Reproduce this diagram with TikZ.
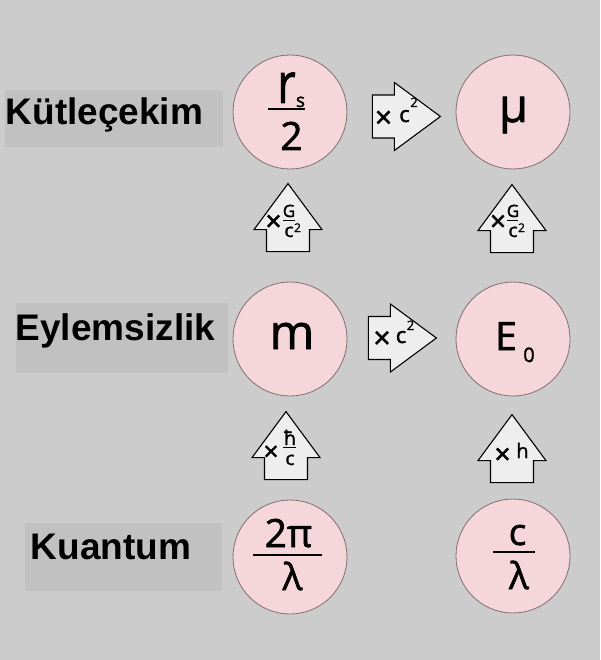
\documentclass[tikz,border=0pt]{standalone}
\usepackage{fontspec}
\usepackage{graphicx}
\setmainfont{Liberation Sans}
\newfontfamily\cf[FakeBold=1.5]{Open Sans}
\usetikzlibrary{calc}
\definecolor{bg}{RGB}{204,204,204}
\definecolor{boxg}{RGB}{193,193,193}
\definecolor{pinkc}{RGB}{245,214,218}
\definecolor{circd}{RGB}{130,110,110}
\definecolor{arrf}{RGB}{238,238,238}
\newcommand\fs[2]{\cf\fontsize{#1}{#1}\selectfont #2}
\tikzset{
  x=1pt, y=-1pt,
  bubble/.style={circle, fill=pinkc, draw=circd, line width=0.8pt, minimum size=114pt, inner sep=0pt},
  glyph/.style={inner sep=0pt, outer sep=0pt, anchor=base},
  rowlabel/.style={inner sep=0pt, anchor=base west, font=\fontsize{37}{37}\selectfont\bfseries},
  fracline/.style={line width=1.6pt, black},
  smallline/.style={line width=0.9pt, black},
  barrow/.pic={\draw[fill=arrf, draw=black, line width=1.1pt, line join=miter]
     (0,-21.5) -- (22,-21.5) -- (22,-34) -- (68,0) -- (22,34) -- (22,21.5) -- (0,21.5) -- cycle;}
}
\begin{document}
\begin{tikzpicture}
\fill[bg] (0,0) rectangle (600,660);
\useasboundingbox (0,0) rectangle (600,660);

% row label boxes
\fill[boxg] (5,90) rectangle (223,147);
\fill[boxg] (16,303) rectangle (228,373);
\fill[boxg] (25,523) rectangle (222,591);
\node[rowlabel] (lab1) at (5.5,125) {Kütleçekim};
\node[rowlabel] (lab2) at (15.5,340) {Eylemsizlik};
\node[rowlabel] (lab3) at (30.5,559) {Kuantum};

% circles
\node[bubble] (rs) at (290,112) {};
\node[bubble] (mu) at (513,112) {};
\node[bubble] (m)  at (290,339) {};
\node[bubble] (E)  at (513,339) {};
\node[bubble] (q1) at (290,557) {};
\node[bubble] (q2) at (513,556) {};

% circle contents
\node[glyph] (rsr) at (286.5,103) {\scalebox{0.8}[1]{\fs{56}{r}}};
\node[glyph] (rss) at (300.5,107) {\fs{19}{s}};
\draw[fracline] (268,109) -- (305,109);
\node[glyph] (rs2) at (291.5,150) {\fs{39}{2}};
\node[glyph] (mut) at (513.5,122) {\fs{47}{μ}};
\node[glyph] (mt) at (292,349) {\fs{48}{m}};
\node[glyph] (Et) at (506,350) {\fs{39}{E}};
\node[glyph] (E0) at (529,362) {\fs{20}{0}};
\node[glyph] (q1t) at (288.5,547) {\fs{39}{2π}};
\draw[fracline] (253,555) -- (322,555);
\node[glyph] (q1b) at (292.5,590) {\fs{37}{λ}};
\node[glyph] (q2t) at (517.5,545) {\fs{37}{c}};
\draw[fracline] (493,552) -- (535,552);
\node[glyph] (q2b) at (519,589) {\fs{37}{λ}};

% horizontal block arrows
\pic at ($(rs.east)+(25,4.5)$) {barrow};
\node[glyph] (h1x) at (383.5,128) {\fs{30}{×}};
\node[glyph] (h1c) at (404.5,122) {\fs{22}{c}};
\node[glyph] (h1s) at (414,107) {\fs{13}{2}};

\pic at ($(m.east)+(21,-1)$) {barrow};
\node[glyph] (h2x) at (382,348.5) {\fs{30}{×}};
\node[glyph] (h2c) at (401,343) {\fs{22}{c}};
\node[glyph] (h2s) at (410.5,330) {\fs{13}{2}};

% vertical block arrows, row 1
\pic[rotate=90] at ($(m.north)+(-2,-30)$) {barrow};
\node[glyph] (v1x) at (273.5,231) {\fs{28}{×}};
\node[glyph] (v1G) at (289,217) {\fs{17}{G}};
\draw[smallline] (283,220) -- (295,220);
\node[glyph] (v1c) at (289,237) {\fs{19}{c}};
\node[glyph] (v1s) at (297.5,232) {\fs{12}{2}};

\pic[rotate=90] at ($(E.north)+(-1,-29)$) {barrow};
\node[glyph] (v2x) at (498,231) {\fs{28}{×}};
\node[glyph] (v2G) at (513,217) {\fs{17}{G}};
\draw[smallline] (507,220) -- (518,220);
\node[glyph] (v2c) at (513,237) {\fs{19}{c}};
\node[glyph] (v2s) at (521.5,232) {\fs{12}{2}};

% vertical block arrows, row 2
\pic[rotate=90] at ($(q1.north)+(-4,-20)$) {barrow};
\node[glyph] (v3x) at (271,460.5) {\fs{26}{×}};
\node[glyph] (v3h) at (290,445) {\fs{20}{ħ}};
\draw[smallline] (283,447.5) -- (296,447.5);
\node[glyph] (v3c) at (290,465) {\fs{19}{c}};

\pic[rotate=90] at ($(q2.north)+(-1,-16)$) {barrow};
\node[glyph] (v4x) at (502.5,464) {\fs{28}{×}};
\node[glyph] (v4h) at (522.5,458) {\fs{20}{h}};
\end{tikzpicture}
\end{document}
